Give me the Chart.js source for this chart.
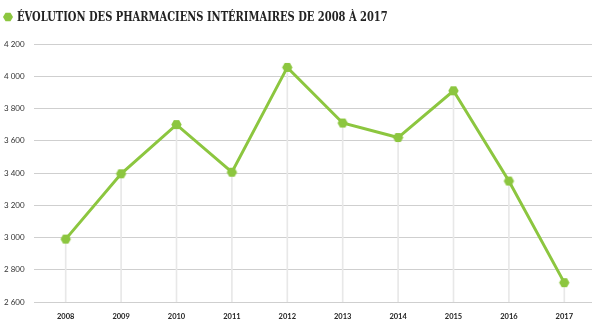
<!DOCTYPE html>
<html><head><meta charset="utf-8">
<script src="https://cdn.jsdelivr.net/npm/chart.js@4"></script>
<style>
html,body{margin:0;padding:0;background:#fff;}
#wrap{position:relative;width:600px;height:326px;}
#bullet{position:absolute;left:3px;top:12px;}
#title{position:absolute;left:17px;top:8px;font-family:"DejaVu Serif",serif;font-weight:bold;font-size:13.5px;color:#222;white-space:nowrap;transform-origin:0 0;}
canvas{position:absolute;left:0;top:0;}
</style></head>
<body><div id="wrap">
<canvas id="c" width="600" height="326"></canvas>
<svg id="bullet" width="10" height="10" viewBox="0 0 10 10"><polygon points="2.5,0.7 7.5,0.7 10,5 7.5,9.3 2.5,9.3 0,5" fill="#8cc63f"/></svg>
<div id="title">ÉVOLUTION DES PHARMACIENS INTÉRIMAIRES DE 2008 À 2017</div>
</div>
<script>
const years = ['2008','2009','2010','2011','2012','2013','2014','2015','2016','2017'];
const pharmaciens = [2990, 3395, 3700, 3405, 4055, 3710, 3620, 3910, 3350, 2720];
const yMin = 2600, yMax = 4200, yStep = 200;

// fit title width to reference (371px)
const t = document.getElementById('title');
t.style.transform = 'scaleX(' + (371 / t.offsetWidth) + ')';

const GREEN = '#8cc63f';
function hexagon(r){
  const c = document.createElement('canvas');
  const s = Math.ceil(r*2+2);
  c.width = s; c.height = s;
  const g = c.getContext('2d');
  g.fillStyle = GREEN;
  g.beginPath();
  for(let i=0;i<6;i++){
    const a = Math.PI/3*i;
    const x = s/2 + r*Math.cos(a), y = s/2 + r*Math.sin(a);
    i?g.lineTo(x,y):g.moveTo(x,y);
  }
  g.closePath(); g.fill();
  return c;
}
const hex = hexagon(5.2);

new Chart(document.getElementById('c'), {
  data: {
    labels: years,
    datasets: [
      {
        type: 'line',
        data: pharmaciens,
        borderColor: GREEN,
        borderWidth: 3,
        pointStyle: hex,
        pointRadius: 5,
        tension: 0,
        order: 0
      },
      {
        type: 'bar',
        data: pharmaciens.map(v => [yMin, v]),
        backgroundColor: '#e8e8e8',
        barThickness: 1,
        order: 1
      }
    ]
  },
  options: {
    responsive: false,
    animation: false,
    layout: { padding: { top: 44, right: 8, bottom: 4, left: 4 } },
    plugins: { legend: { display: false }, tooltip: { enabled: false } },
    scales: {
      x: {
        offset: true,
        afterFit: s => { s.height = 20; },
        grid: { display: false, drawTicks: false },
        border: { display: false },
        ticks: { color: '#222', font: { family: 'Lato', weight: 'bold', size: 7.5 }, padding: 10, maxRotation: 0 }
      },
      y: {
        min: yMin, max: yMax,
        afterFit: s => { s.width = 34; },
        border: { display: false },
        grid: { color: '#cfcfcf', lineWidth: 1, tickLength: 4, tickColor: '#cfcfcf' },
        ticks: {
          stepSize: yStep,
          crossAlign: 'far',
          padding: 6,
          color: '#333',
          font: { family: 'Lato', size: 8 },
          callback: v => String(v).replace(/\B(?=(\d{3})+(?!\d))/g, ' ')
        }
      }
    }
  }
});
</script>
</body></html>
